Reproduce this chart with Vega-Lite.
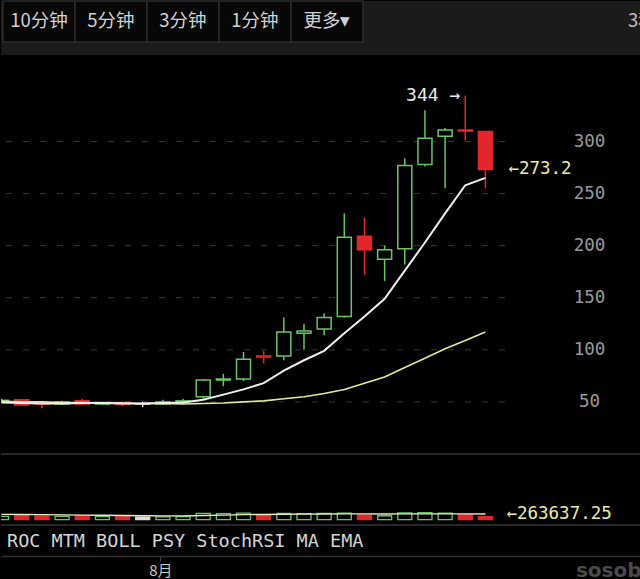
{
  "$schema": "https://vega.github.io/schema/vega-lite/v6.json",
  "background": "#000000",
  "padding": 0,
  "spacing": 0,
  "config": {"view": {"stroke": null}, "concat": {"spacing": 0}},
  "datasets": {
    "k": [
      {"d":"2017-07-24T00:00:00","o":50.5,"h":53,"l":49,"c":51.5,"dir":"up","v":150000,"ma1":49.5,"ma2":50.5,"vma":245000},
      {"d":"2017-07-25T00:00:00","o":52,"h":53,"l":46,"c":47,"dir":"down","v":200000,"ma1":49,"ma2":50,"vma":240000},
      {"d":"2017-07-26T00:00:00","o":49,"h":50,"l":44,"c":48,"dir":"down","v":170000,"ma1":48.5,"ma2":50,"vma":230000},
      {"d":"2017-07-27T00:00:00","o":48,"h":51,"l":47,"c":50,"dir":"up","v":150000,"ma1":48.5,"ma2":49.5,"vma":220000},
      {"d":"2017-07-28T00:00:00","o":51,"h":53,"l":47,"c":48,"dir":"down","v":170000,"ma1":49,"ma2":49.5,"vma":210000},
      {"d":"2017-07-29T00:00:00","o":48,"h":50,"l":47,"c":49.5,"dir":"up","v":140000,"ma1":49,"ma2":49,"vma":200000},
      {"d":"2017-07-30T00:00:00","o":49.5,"h":50,"l":46,"c":47.5,"dir":"down","v":160000,"ma1":48.5,"ma2":49,"vma":190000},
      {"d":"2017-07-31T00:00:00","o":48,"h":50,"l":45,"c":48.2,"dir":"flat","v":120000,"ma1":48.5,"ma2":48.5,"vma":180000},
      {"d":"2017-08-01T00:00:00","o":48,"h":52,"l":47,"c":50,"dir":"up","v":130000,"ma1":49,"ma2":48.5,"vma":175000},
      {"d":"2017-08-02T00:00:00","o":50,"h":53,"l":48,"c":51,"dir":"up","v":140000,"ma1":49.5,"ma2":48,"vma":175000},
      {"d":"2017-08-03T00:00:00","o":55,"h":72,"l":53,"c":71,"dir":"up","v":290000,"ma1":52,"ma2":48.5,"vma":190000},
      {"d":"2017-08-04T00:00:00","o":71,"h":77,"l":65,"c":72,"dir":"up","v":280000,"ma1":57,"ma2":49,"vma":210000},
      {"d":"2017-08-05T00:00:00","o":72,"h":98,"l":70,"c":91,"dir":"up","v":300000,"ma1":62,"ma2":50,"vma":230000},
      {"d":"2017-08-06T00:00:00","o":94,"h":99,"l":87,"c":93,"dir":"down","v":200000,"ma1":68,"ma2":51,"vma":240000},
      {"d":"2017-08-07T00:00:00","o":94,"h":131,"l":90,"c":117,"dir":"up","v":290000,"ma1":80,"ma2":53,"vma":250000},
      {"d":"2017-08-08T00:00:00","o":116,"h":125,"l":100,"c":118,"dir":"up","v":280000,"ma1":90,"ma2":55,"vma":255000},
      {"d":"2017-08-09T00:00:00","o":120,"h":135,"l":114,"c":131,"dir":"up","v":290000,"ma1":99,"ma2":58,"vma":260000},
      {"d":"2017-08-10T00:00:00","o":132,"h":231,"l":131,"c":208,"dir":"up","v":300000,"ma1":116,"ma2":62,"vma":265000},
      {"d":"2017-08-11T00:00:00","o":209,"h":227,"l":172,"c":196,"dir":"down","v":220000,"ma1":132,"ma2":68,"vma":265000},
      {"d":"2017-08-12T00:00:00","o":187,"h":200,"l":166,"c":196,"dir":"up","v":180000,"ma1":149,"ma2":74,"vma":262000},
      {"d":"2017-08-13T00:00:00","o":197,"h":284,"l":182,"c":277,"dir":"up","v":310000,"ma1":176,"ma2":83,"vma":265000},
      {"d":"2017-08-14T00:00:00","o":278,"h":330,"l":276,"c":303,"dir":"up","v":320000,"ma1":203,"ma2":92,"vma":268000},
      {"d":"2017-08-15T00:00:00","o":305,"h":313,"l":255,"c":311,"dir":"up","v":300000,"ma1":231,"ma2":101,"vma":266000},
      {"d":"2017-08-16T00:00:00","o":311,"h":344,"l":301,"c":310,"dir":"down","v":230000,"ma1":258,"ma2":109,"vma":265000},
      {"d":"2017-08-17T00:00:00","o":309.5,"h":310,"l":255,"c":273.2,"dir":"down","v":140000,"ma1":265,"ma2":117,"vma":263637.25}
    ],
    "grid": [{"g":50},{"g":100},{"g":150},{"g":200},{"g":250},{"g":300}],
    "buttons": [{"label":"10分钟"},{"label":"5分钟"},{"label":"3分钟"},{"label":"1分钟"},{"label":"更多▾"}],
    "one": [{}]
  },
  "vconcat": [
    {
      "width": 640,
      "height": 54,
      "view": {"fill": "#1b1b1b", "stroke": null},
      "data": {"name": "buttons"},
      "encoding": {
        "x": {"field": "label", "type": "nominal", "scale": {"type": "band", "domain": ["10分钟","5分钟","3分钟","1分钟","更多▾","s1","s2","3秒"], "paddingInner": 0, "paddingOuter": 0.444, "align": 0.03}, "axis": null},
        "y": {"datum": "btn", "type": "nominal", "scale": {"type": "band", "domain": ["btn"], "paddingInner": 0, "paddingOuter": 0.16, "align": 0}, "axis": null}
      },
      "layer": [
        {"mark": {"type": "rect", "fill": "#070707", "stroke": "#2c2c2c", "strokeWidth": 1.5}},
        {"mark": {"type": "text", "color": "#d2d2d2", "font": "Noto Sans CJK SC", "fontSize": 18.5}, "encoding": {"text": {"field": "label"}}},
        {"data": {"values": [{"label": "3秒"}]}, "mark": {"type": "text", "color": "#c0c0c0", "font": "Noto Sans CJK SC", "fontSize": 18.5, "align": "left", "dx": 85, "clip": true}, "encoding": {"text": {"field": "label"}}}
      ]
    },
    {
      "width": 640,
      "height": 399,
      "layer": [
        {
          "data": {"name": "grid"},
          "mark": {"type": "rule", "color": "#363636", "strokeWidth": 1, "strokeDash": [6, 11]},
          "encoding": {
            "x": {"datum": {"year": 2017, "month": 7, "date": 24, "hours": 5, "minutes": 15}, "type": "temporal", "scale": {"domain": [{"year": 2017, "month": 7, "date": 24, "hours": 5, "minutes": 15}, {"year": 2017, "month": 8, "date": 24, "hours": 11, "minutes": 15}], "nice": false}, "axis": null},
            "x2": {"datum": {"year": 2017, "month": 8, "date": 18, "hours": 12}},
            "y": {"field": "g", "type": "quantitative", "scale": {"domain": [0, 383], "nice": false, "zero": false},
                  "axis": {"orient": "right", "offset": -52, "values": [50,100,150,200,250,300], "labelAlign": "center", "labelPadding": 0, "ticks": false, "domain": false, "grid": false, "title": null, "labelFont": "DejaVu Sans Mono", "labelFontSize": 17.5, "labelColor": "#9a9a9a"}}
          }
        },
        {
          "data": {"name": "one"},
          "mark": {"type": "rule", "color": "#333333", "strokeWidth": 1.5},
          "encoding": {"y": {"datum": 0, "type": "quantitative", "scale": {"domain": [0, 383], "nice": false, "zero": false}}}
        },
        {
          "data": {"name": "k"},
          "mark": {"type": "rule", "strokeWidth": 1.5, "clip": true},
          "encoding": {
            "x": {"field": "d", "type": "temporal", "scale": {"domain": [{"year": 2017, "month": 7, "date": 24, "hours": 5, "minutes": 15}, {"year": 2017, "month": 8, "date": 24, "hours": 11, "minutes": 15}], "nice": false}},
            "y": {"field": "l", "type": "quantitative", "scale": {"domain": [0, 383], "nice": false, "zero": false}},
            "y2": {"field": "h"},
            "stroke": {"field": "dir", "type": "nominal", "scale": {"domain": ["up","down","flat"], "range": ["#66c466","#e3262b","#dddddd"]}, "legend": null}
          }
        },
        {
          "data": {"name": "k"},
          "mark": {"type": "bar", "width": 14, "strokeWidth": 1.5, "clip": true},
          "encoding": {
            "x": {"field": "d", "type": "temporal", "scale": {"domain": [{"year": 2017, "month": 7, "date": 24, "hours": 5, "minutes": 15}, {"year": 2017, "month": 8, "date": 24, "hours": 11, "minutes": 15}], "nice": false}},
            "y": {"field": "o", "type": "quantitative", "scale": {"domain": [0, 383], "nice": false, "zero": false}},
            "y2": {"field": "c"},
            "fill": {"field": "dir", "type": "nominal", "scale": {"domain": ["up","down","flat"], "range": ["#000000","#e3262b","#dddddd"]}, "legend": null},
            "stroke": {"field": "dir", "type": "nominal", "scale": {"domain": ["up","down","flat"], "range": ["#66c466","#e3262b","#dddddd"]}, "legend": null}
          }
        },
        {
          "data": {"name": "k"},
          "mark": {"type": "line", "color": "#e6e69c", "strokeWidth": 1.6, "clip": true},
          "encoding": {
            "x": {"field": "d", "type": "temporal", "scale": {"domain": [{"year": 2017, "month": 7, "date": 24, "hours": 5, "minutes": 15}, {"year": 2017, "month": 8, "date": 24, "hours": 11, "minutes": 15}], "nice": false}},
            "y": {"field": "ma2", "type": "quantitative", "scale": {"domain": [0, 383], "nice": false, "zero": false}}
          }
        },
        {
          "data": {"name": "k"},
          "mark": {"type": "line", "color": "#f0f0f0", "strokeWidth": 2, "clip": true},
          "encoding": {
            "x": {"field": "d", "type": "temporal", "scale": {"domain": [{"year": 2017, "month": 7, "date": 24, "hours": 5, "minutes": 15}, {"year": 2017, "month": 8, "date": 24, "hours": 11, "minutes": 15}], "nice": false}},
            "y": {"field": "ma1", "type": "quantitative", "scale": {"domain": [0, 383], "nice": false, "zero": false}}
          }
        },
        {
          "data": {"name": "one"},
          "mark": {"type": "text", "align": "right", "dx": -5, "font": "DejaVu Sans Mono", "fontSize": 18, "color": "#e8e8e8"},
          "encoding": {
            "x": {"datum": {"year": 2017, "month": 8, "date": 16}, "type": "temporal", "scale": {"domain": [{"year": 2017, "month": 7, "date": 24, "hours": 5, "minutes": 15}, {"year": 2017, "month": 8, "date": 24, "hours": 11, "minutes": 15}], "nice": false}},
            "y": {"datum": 344, "type": "quantitative", "scale": {"domain": [0, 383], "nice": false, "zero": false}},
            "text": {"value": "344 →"}
          }
        },
        {
          "data": {"name": "one"},
          "mark": {"type": "text", "align": "left", "dx": 23, "font": "DejaVu Sans Mono", "fontSize": 17.5, "color": "#ececa6"},
          "encoding": {
            "x": {"datum": {"year": 2017, "month": 8, "date": 17}, "type": "temporal", "scale": {"domain": [{"year": 2017, "month": 7, "date": 24, "hours": 5, "minutes": 15}, {"year": 2017, "month": 8, "date": 24, "hours": 11, "minutes": 15}], "nice": false}},
            "y": {"datum": 273.2, "type": "quantitative", "scale": {"domain": [0, 383], "nice": false, "zero": false}},
            "text": {"value": "←273.2"}
          }
        }
      ]
    },
    {
      "width": 640,
      "height": 70,
      "layer": [
        {
          "data": {"name": "k"},
          "mark": {"type": "bar", "width": 14, "strokeWidth": 1.3, "clip": true},
          "encoding": {
            "x": {"field": "d", "type": "temporal", "scale": {"domain": [{"year": 2017, "month": 7, "date": 24, "hours": 5, "minutes": 15}, {"year": 2017, "month": 8, "date": 24, "hours": 11, "minutes": 15}], "nice": false}, "axis": null},
            "y": {"field": "v", "type": "quantitative", "scale": {"domain": [-250000, 3000000], "nice": false, "zero": false}, "axis": null},
            "y2": {"datum": 0},
            "fill": {"field": "dir", "type": "nominal", "scale": {"domain": ["up","down","flat"], "range": ["#000000","#e3262b","#8fd48f"]}, "legend": null},
            "stroke": {"field": "dir", "type": "nominal", "scale": {"domain": ["up","down","flat"], "range": ["#7fd07f","#e3262b","#8fd48f"]}, "legend": null}
          }
        },
        {
          "data": {"name": "k"},
          "mark": {"type": "line", "color": "#e8eec0", "strokeWidth": 1.4, "clip": true},
          "encoding": {
            "x": {"field": "d", "type": "temporal", "scale": {"domain": [{"year": 2017, "month": 7, "date": 24, "hours": 5, "minutes": 15}, {"year": 2017, "month": 8, "date": 24, "hours": 11, "minutes": 15}], "nice": false}},
            "y": {"field": "vma", "type": "quantitative", "scale": {"domain": [-250000, 3000000], "nice": false, "zero": false}}
          }
        },
        {
          "data": {"name": "one"},
          "mark": {"type": "rule", "color": "#333333", "strokeWidth": 1.5},
          "encoding": {"y": {"datum": -250000, "type": "quantitative", "scale": {"domain": [-250000, 3000000], "nice": false, "zero": false}}}
        },
        {
          "data": {"name": "one"},
          "mark": {"type": "text", "align": "left", "dx": 21, "font": "DejaVu Sans Mono", "fontSize": 17.5, "color": "#ececa6"},
          "encoding": {
            "x": {"datum": {"year": 2017, "month": 8, "date": 17}, "type": "temporal", "scale": {"domain": [{"year": 2017, "month": 7, "date": 24, "hours": 5, "minutes": 15}, {"year": 2017, "month": 8, "date": 24, "hours": 11, "minutes": 15}], "nice": false}},
            "y": {"datum": 263637.25, "type": "quantitative", "scale": {"domain": [-250000, 3000000], "nice": false, "zero": false}},
            "text": {"value": "←263637.25"}
          }
        }
      ]
    },
    {
      "width": 640,
      "height": 30,
      "layer": [
        {
          "data": {"name": "one"},
          "mark": {"type": "text", "align": "left", "dx": 6, "font": "DejaVu Sans Mono", "fontSize": 18.5, "color": "#d4d4d4"},
          "encoding": {
            "x": {"datum": {"year": 2017, "month": 7, "date": 24, "hours": 5, "minutes": 15}, "type": "temporal",
                  "scale": {"domain": [{"year": 2017, "month": 7, "date": 24, "hours": 5, "minutes": 15}, {"year": 2017, "month": 8, "date": 24, "hours": 11, "minutes": 15}], "nice": false},
                  "axis": {"orient": "bottom", "values": [{"year": 2017, "month": 8, "date": 1}], "format": "%-m月", "title": null, "grid": false, "labelFont": "Noto Sans CJK SC", "labelFontSize": 15, "labelColor": "#c8c8c8", "tickColor": "#444444", "tickSize": 5, "domainColor": "#303030", "domainWidth": 1.5, "labelPadding": 2}},
            "text": {"value": "ROC MTM BOLL PSY StochRSI MA EMA"}
          }
        },
        {
          "data": {"name": "one"},
          "mark": {"type": "text", "align": "left", "dy": 30, "font": "DejaVu Sans", "fontWeight": "bold", "fontSize": 20, "color": "#4a4a4a"},
          "encoding": {
            "x": {"datum": {"year": 2017, "month": 8, "date": 21, "hours": 7}, "type": "temporal", "scale": {"domain": [{"year": 2017, "month": 7, "date": 24, "hours": 5, "minutes": 15}, {"year": 2017, "month": 8, "date": 24, "hours": 11, "minutes": 15}], "nice": false}},
            "text": {"value": "sosob"}
          }
        }
      ]
    }
  ]
}
